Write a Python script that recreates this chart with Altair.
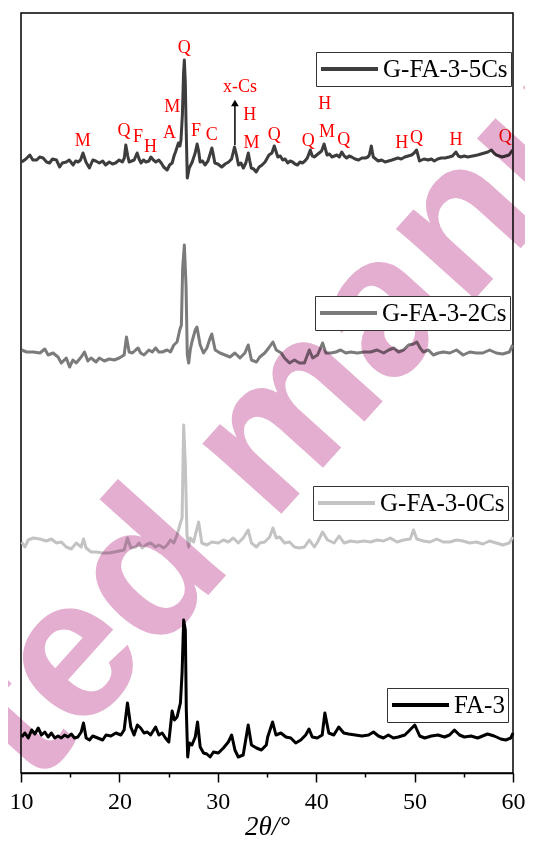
import altair as alt
import pandas as pd

# ---------------- data ----------------
SERIES = ["G-FA-3-5Cs", "G-FA-3-2Cs", "G-FA-3-0Cs", "FA-3"]
COLORS = ["#3d3d3d", "#7b7b7b", "#c3c3c3", "#000000"]
OFFSETS = [600, 411, 218, 13]

theta_5cs = [10.07, 10.5, 10.9, 11.2, 11.6, 11.9, 12.25, 12.6, 12.9, 13.2, 13.6, 13.93, 14.2, 14.6, 14.9, 15.3, 15.55, 15.8, 16.05, 16.3, 16.6, 16.95, 17.3, 17.6, 17.96, 18.3, 18.6, 18.97, 19.3, 19.6, 19.98, 20.3, 20.5, 20.65, 20.85, 20.99, 21.25, 21.5, 21.8, 22.0, 22.2, 22.45, 22.7, 23.0, 23.2, 23.45, 23.7, 24.0, 24.25, 24.5, 24.85, 25.1, 25.36, 25.55, 25.7, 26.0, 26.15, 26.26, 26.4, 26.52, 26.6, 26.7, 26.77, 26.9, 27.1, 27.4, 27.7, 27.9, 28.05, 28.2, 28.45, 28.7, 29.0, 29.25, 29.4, 29.55, 29.7, 30.0, 30.4, 30.75, 31.1, 31.4, 31.7, 31.9, 32.1, 32.35, 32.6, 32.85, 33.1, 33.25, 33.4, 33.65, 33.9, 34.2, 34.5, 34.8, 35.2, 35.5, 35.74, 36.1, 36.35, 36.6, 36.85, 37.1, 37.35, 37.6, 37.85, 38.1, 38.35, 38.6, 38.85, 39.1, 39.4, 39.6, 39.8, 40.05, 40.3, 40.55, 40.8, 41.1, 41.35, 41.6, 41.85, 42.1, 42.35, 42.6, 42.85, 43.1, 43.35, 43.6, 43.95, 44.3, 44.65, 45.0, 45.25, 45.4, 45.6, 45.8, 46.05, 46.3, 46.65, 47.0, 47.35, 47.7, 48.0, 48.3, 48.65, 49.0, 49.35, 49.7, 49.95, 50.2, 50.5, 50.95, 51.4, 51.7, 52.0, 52.35, 52.7, 53.1, 53.5, 53.85, 54.2, 54.45, 54.7, 55.05, 55.4, 55.9, 56.4, 56.75, 57.1, 57.45, 57.8, 58.05, 58.3, 58.6, 58.9, 59.25, 59.6, 59.95]
int_5cs = [11, 14, 18, 13, 13, 16, 15, 11, 10, 14, 13, 6, 10, 11, 13, 8, 12, 11, 13, 20, 11, 5, 13, 12, 10, 12, 8, 11, 9, 10, 13, 11, 15, 28, 17, 11, 12, 13, 20, 14, 10, 13, 11, 12, 16, 13, 11, 13, 10, 6, 3, 8, 10, 17, 21, 30, 27, 33, 58, 100, 113, 90, 51, -5, 5, 11, 20, 29, 22, 11, 12, 8, 12, 20, 25, 18, 10, 9, 6, 9, 11, 14, 26, 18, 8, 10, 5, 10, 20, 12, 5, 4, 1, 6, 8, 11, 18, 20, 27, 16, 17, 13, 14, 10, 12, 11, 9, 8, 11, 10, 12, 15, 23, 17, 16, 18, 20, 22, 29, 18, 19, 16, 17, 18, 16, 21, 17, 15, 17, 16, 14, 13, 15, 15, 16, 18, 27, 16, 14, 12, 13, 11, 12, 13, 14, 15, 14, 16, 17, 18, 20, 23, 12, 14, 13, 14, 12, 14, 15, 15, 16, 17, 21, 17, 16, 17, 16, 17, 18, 19, 20, 21, 23, 20, 18, 17, 16, 17, 18, 23]

theta_2cs = [10.07, 10.57, 11.24, 11.92, 12.42, 12.76, 13.26, 13.76, 14.1, 14.6, 14.94, 15.28, 15.61, 16.12, 16.45, 16.79, 17.12, 17.63, 17.96, 18.47, 18.97, 19.48, 19.98, 20.48, 20.72, 20.99, 21.32, 21.66, 21.9, 22.16, 22.5, 23.0, 23.34, 23.68, 24.01, 24.35, 24.85, 25.19, 25.53, 25.86, 26.13, 26.3, 26.43, 26.6, 26.77, 26.9, 27.04, 27.2, 27.37, 27.71, 27.88, 28.21, 28.55, 28.89, 29.22, 29.39, 29.73, 30.23, 30.73, 31.24, 31.74, 32.25, 32.75, 33.09, 33.42, 33.93, 34.26, 34.77, 35.17, 35.6, 35.94, 36.45, 36.78, 37.29, 37.79, 38.29, 38.8, 39.3, 39.64, 40.14, 40.65, 40.98, 41.49, 41.99, 42.49, 43.0, 43.5, 44.17, 44.85, 45.52, 46.19, 46.86, 47.37, 47.87, 48.37, 48.88, 49.38, 49.89, 50.22, 50.56, 50.89, 51.4, 51.9, 52.41, 52.91, 53.58, 54.26, 54.93, 55.6, 56.27, 56.94, 57.62, 58.29, 58.96, 59.63, 59.97]
int_2cs = [12, 10, 10, 9, 13, 7, 9, 5, -1, 4, -5, 2, -1, 5, 10, 1, 4, 0, 4, 1, 3, 2, 4, 7, 25, 10, 9, 12, 14, 9, 7, 12, 10, 14, 10, 10, 12, 10, 17, 20, 32, 37, 94, 117, 77, 7, -1, 12, 20, 32, 35, 17, 9, 14, 24, 28, 12, 9, 7, 5, 9, 4, 9, 17, 2, 0, 5, 9, 14, 20, 12, 9, 4, -1, 2, -1, -1, 12, 4, 7, 19, 9, 9, 10, 12, 9, 10, 9, 10, 10, 12, 9, 12, 14, 10, 12, 17, 18, 20, 14, 10, 12, 7, 9, 10, 9, 12, 7, 10, 9, 9, 12, 9, 8, 10, 17]

theta_0cs = [10.07, 10.4, 10.74, 11.24, 11.92, 12.59, 13.09, 13.6, 14.1, 14.6, 15.11, 15.61, 16.12, 16.35, 16.62, 17.12, 17.63, 18.3, 18.97, 19.48, 19.98, 20.48, 20.82, 21.16, 21.66, 22.0, 22.33, 22.67, 23.17, 23.68, 24.01, 24.52, 24.85, 25.19, 25.53, 25.86, 26.2, 26.37, 26.53, 26.7, 26.87, 27.04, 27.2, 27.54, 28.05, 28.38, 28.89, 29.39, 30.06, 30.57, 31.07, 31.57, 32.08, 32.58, 33.09, 33.42, 33.93, 34.26, 34.77, 35.27, 35.6, 35.94, 36.28, 36.78, 37.29, 37.79, 38.29, 38.8, 39.3, 39.81, 40.14, 40.65, 41.15, 41.82, 42.33, 42.83, 43.5, 44.17, 44.85, 45.52, 46.19, 46.86, 47.53, 48.21, 48.88, 49.55, 49.89, 50.22, 50.89, 51.57, 52.24, 52.91, 53.58, 54.26, 54.93, 55.6, 56.27, 56.94, 57.62, 58.29, 58.96, 59.63, 59.97]
int_0cs = [13, 8, 15, 17, 16, 14, 16, 12, 13, 8, 6, 12, 8, 16, 7, 3, 3, 2, 2, 3, 4, 5, 17, 7, 8, 12, 7, 10, 12, 8, 10, 7, 10, 15, 12, 20, 32, 37, 130, 90, 20, 8, 17, 13, 33, 12, 10, 13, 12, 15, 13, 17, 12, 17, 25, 12, 8, 12, 13, 18, 27, 17, 18, 12, 13, 8, 7, 8, 15, 8, 13, 23, 15, 12, 19, 12, 14, 13, 14, 13, 15, 14, 17, 13, 15, 16, 25, 16, 14, 13, 16, 13, 13, 15, 14, 12, 13, 11, 14, 12, 10, 12, 18]

theta_fa3 = [10.07, 10.4, 10.74, 11.08, 11.41, 11.75, 12.08, 12.42, 12.76, 13.09, 13.43, 13.76, 14.1, 14.44, 14.77, 15.11, 15.44, 15.78, 16.12, 16.35, 16.62, 16.96, 17.29, 17.8, 18.3, 18.64, 19.14, 19.64, 20.15, 20.48, 20.82, 21.16, 21.49, 21.83, 22.16, 22.5, 22.84, 23.17, 23.68, 24.01, 24.35, 24.68, 25.02, 25.36, 25.59, 25.86, 26.2, 26.37, 26.53, 26.7, 26.8, 26.94, 27.1, 27.37, 27.71, 27.94, 28.21, 28.55, 28.89, 29.22, 29.56, 30.06, 30.57, 31.07, 31.41, 31.74, 32.08, 32.58, 33.09, 33.42, 33.93, 34.43, 34.93, 35.07, 35.57, 35.91, 36.41, 36.92, 37.42, 37.92, 38.43, 38.93, 39.27, 39.6, 40.11, 40.61, 40.88, 41.28, 41.79, 42.29, 42.8, 43.3, 43.97, 44.64, 45.32, 45.82, 46.32, 46.83, 47.33, 47.84, 48.34, 49.01, 49.52, 50.02, 50.52, 51.03, 51.7, 52.37, 53.05, 53.55, 54.05, 54.56, 55.06, 55.73, 56.41, 56.91, 57.41, 58.09, 58.76, 59.26, 59.77, 60.0]
int_fa3 = [23, 27, 22, 30, 26, 32, 25, 28, 23, 27, 22, 24, 22, 25, 23, 26, 22, 23, 28, 37, 22, 20, 24, 22, 20, 25, 24, 27, 25, 30, 57, 33, 25, 35, 32, 27, 28, 25, 33, 25, 27, 22, 18, 49, 40, 43, 57, 87, 140, 130, 50, 3, 17, 15, 23, 38, 13, 7, 6, 3, 8, 7, 12, 18, 25, 10, 3, 5, 35, 15, 12, 10, 15, 23, 38, 25, 27, 23, 22, 17, 20, 25, 31, 23, 22, 25, 47, 27, 25, 33, 27, 26, 25, 24, 25, 28, 24, 22, 25, 22, 23, 25, 30, 35, 24, 22, 24, 25, 23, 25, 30, 25, 23, 24, 22, 24, 26, 24, 21, 20, 22, 27]

THETAS = [theta_5cs, theta_2cs, theta_0cs, theta_fa3]
INTENS = [int_5cs, int_2cs, int_0cs, int_fa3]

# phase labels over the top pattern
ann_label = ["M", "Q", "F", "H", "A", "M", "Q", "F", "C", "x-Cs", "H", "M", "Q", "Q", "H", "M", "Q", "H", "Q", "H", "Q"]
ann_theta = [16.28, 20.48, 21.9, 23.17, 25.09, 25.36, 26.6, 27.78, 29.39, 32.25, 33.25, 33.42, 35.74, 39.2, 40.88, 41.1, 42.8, 48.7, 50.2, 54.2, 59.2]
ann_y = [632, 642, 636, 626, 640, 666, 725, 642, 638, 686, 658, 630, 638, 632, 669, 641, 633, 630, 635, 633, 636]

arrow_theta = [31.74]
arrow_from = [628]
arrow_to = [670]

LEGEND_POS = [(295, 39), (294, 283), (292, 473), (366, 675)]

# ---------------- chart ----------------
SERIF = "Liberation Serif"
xscale = alt.Scale(domain=[10, 60], nice=False, zero=False)
yscale = alt.Scale(domain=[0, 760], nice=False, zero=False)
xaxis = alt.Axis(
    values=list(range(10, 61, 5)),
    labelExpr="datum.value % 10 === 0 ? datum.label : ''",
    tickSize={"condition": {"test": "datum.value % 10 === 0", "value": 9}, "value": 4},
    title="2θ/°",
    titleFont=SERIF, titleFontStyle="italic", titleFontSize=27, titleFontWeight="normal",
    titleColor="black", titleBaseline="alphabetic", titleY=61,
    labelFont=SERIF, labelFontSize=24, labelColor="black", labelPadding=7,
    labelFlush=False, labelOverlap=False,
    domainColor="black", domainWidth=1.5, tickColor="black", tickWidth=1.5, grid=False,
)

def X(field="theta"):
    return alt.X(f"{field}:Q", scale=xscale, axis=xaxis)

layers = []
for name, col, off, th, it, (lx, ly) in zip(SERIES, COLORS, OFFSETS, THETAS, INTENS, LEGEND_POS):
    df = pd.DataFrame({"theta": th, "intensity": it})
    df["v"] = df["intensity"] + off
    df["series"] = name
    layer = alt.Chart(df).mark_line(strokeWidth=3, interpolate="linear", strokeJoin="round").encode(
        x=X(),
        y=alt.Y("v:Q", scale=yscale, axis=None),
        color=alt.Color(
            "series:N",
            scale=alt.Scale(domain=[name], range=[col]),
            legend=alt.Legend(
                orient="none", legendX=lx, legendY=ly, title=None,
                symbolType="stroke", symbolSize=3249, symbolStrokeWidth=4,
                clipHeight=28, labelFont=SERIF, labelFontSize=25, labelColor="black",
                labelOffset=3, padding=3, strokeColor="#333333", labelLimit=400,
                fillColor="white",
            ),
        ),
    )
    layers.append(layer)

ann_df = pd.DataFrame({"theta": ann_theta, "v": ann_y, "label": ann_label})
ann = alt.Chart(ann_df).mark_text(
    font=SERIF, fontSize=18, color="#ff0000", align="center", baseline="middle"
).encode(x=X(), y=alt.Y("v:Q", scale=yscale, axis=None), text="label:N")

arr_df = pd.DataFrame({"theta": arrow_theta, "v": arrow_from, "v2": arrow_to})
arrow_line = alt.Chart(arr_df).mark_rule(color="black", strokeWidth=1.5).encode(
    x=X(), y=alt.Y("v:Q", scale=yscale, axis=None), y2="v2:Q"
)
arrow_head = alt.Chart(arr_df).mark_point(
    shape="triangle-up", filled=True, color="black", size=60, opacity=1
).encode(x=X(), y=alt.Y("v2:Q", scale=yscale, axis=None))

wm = alt.Chart(pd.DataFrame({"k": [0]})).mark_text(
    text="ted manu", font="Liberation Sans", fontWeight="bold", fontSize=200,
    angle=312, color="#e4aed0", blend="multiply", align="center", baseline="middle",
).encode(x=alt.value(266), y=alt.value(405))

chart = (
    alt.layer(*layers, ann, arrow_line, arrow_head, wm)
    .resolve_scale(color="independent")
    .properties(
        width=492, height=760,
        autosize=alt.AutoSizeParams(type="none"),
        padding={"left": 13, "top": 5, "right": 12, "bottom": 68},
        background="white",
    )
    .configure_view(stroke="black", strokeWidth=1.5)
)

chart.save("out.html", embed_options={"renderer": "svg", "actions": False})
